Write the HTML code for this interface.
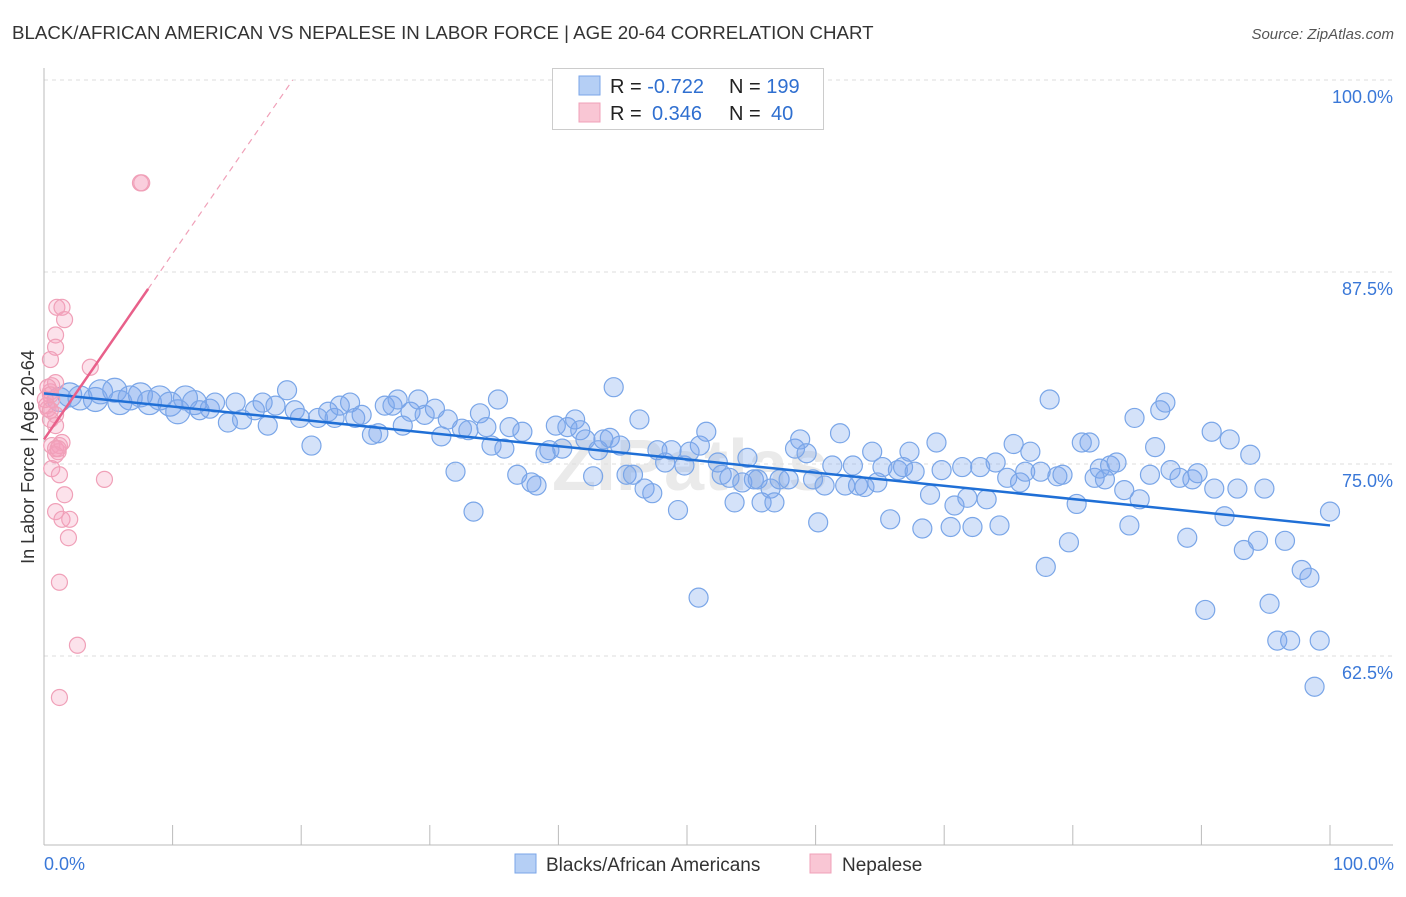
<!DOCTYPE html>
<html><head><meta charset="utf-8"><style>
body{margin:0;background:#fff;font-family:"Liberation Sans",sans-serif;}
svg text{font-family:"Liberation Sans",sans-serif;}
</style></head><body>
<svg id="chart" width="1406" height="892" xmlns="http://www.w3.org/2000/svg">
<text x="12" y="39" font-size="18.7" fill="#333">BLACK/AFRICAN AMERICAN VS NEPALESE IN LABOR FORCE | AGE 20-64 CORRELATION CHART</text>
<text x="1394" y="39" font-size="15" fill="#555" font-style="italic" text-anchor="end">Source: ZipAtlas.com</text>
<text x="690" y="490" font-size="72" fill="#eaeaea" text-anchor="middle" font-weight="bold">ZIPatlas</text>
<g id="grid"></g>
<g id="marks"></g>
<text transform="translate(34,457) rotate(-90)" font-size="18" fill="#333" text-anchor="middle">In Labor Force | Age 20-64</text>
<g>
<rect x="552.5" y="68.5" width="271" height="61" fill="#fff" stroke="#ccc"/>
<rect x="579" y="76" width="21" height="19" fill="#b5cff5" stroke="#7aa6e8"/>
<rect x="579" y="103" width="21" height="19" fill="#f9c6d4" stroke="#f0a0b8"/>
<text x="610" y="93" font-size="20" fill="#222">R = <tspan fill="#2f6fd0">-0.722</tspan></text>
<text x="729" y="93" font-size="20" fill="#222">N = <tspan fill="#2f6fd0">199</tspan></text>
<text x="610" y="120" font-size="20" fill="#222">R = <tspan fill="#2f6fd0" x="652">0.346</tspan></text>
<text x="729" y="120" font-size="20" fill="#222">N = <tspan fill="#2f6fd0" x="771">40</tspan></text>
</g>
<text x="44" y="870" font-size="18" fill="#3a78d8">0.0%</text>
<text x="1394" y="870" font-size="18" fill="#3a78d8" text-anchor="end">100.0%</text>
<g>
<rect x="515" y="854" width="21" height="19" fill="#b5cff5" stroke="#7aa6e8"/>
<text x="546" y="871" font-size="19" fill="#333">Blacks/African Americans</text>
<rect x="810" y="854" width="21" height="19" fill="#f9c6d4" stroke="#f0a0b8"/>
<text x="842" y="871" font-size="19" fill="#333">Nepalese</text>
</g>
</svg>
<script>
const yTicks=[100,87.5,75,62.5];
const yTickLabels=["100.0%","87.5%","75.0%","62.5%"];
const xTicks=[0,10,20,30,40,50,60,70,80,90,100];
const blueX=[1.2,2.0,2.8,4.0,4.4,5.5,5.9,6.7,7.5,8.2,9.0,9.8,10.4,11.0,11.7,12.1,12.9,13.3,14.3,14.9,15.4,16.4,17.0,17.4,18.0,18.9,19.5,19.9,20.8,21.3,22.1,22.6,23.0,23.8,24.2,24.7,25.5,26.0,26.5,27.1,27.5,27.9,28.5,29.1,29.6,30.4,30.9,31.4,32.0,32.5,33.0,33.4,33.9,34.4,34.8,35.3,35.8,36.2,36.8,37.2,37.9,38.3,39.0,39.3,39.8,40.3,40.7,41.3,41.7,42.1,42.7,43.1,43.5,44.0,44.3,44.8,45.3,45.8,46.3,46.7,47.3,47.7,48.3,48.8,49.3,49.8,50.2,51.0,51.5,52.4,52.7,53.3,53.7,54.3,54.7,55.2,55.5,55.8,56.5,56.8,57.2,57.9,58.4,58.8,59.3,59.8,60.2,60.7,61.3,61.9,62.3,62.9,63.3,63.8,64.4,64.8,65.2,65.8,66.4,66.8,67.3,67.7,68.3,68.9,69.4,69.8,70.5,70.8,71.4,71.8,72.2,72.8,73.3,74.0,74.3,74.9,75.4,75.9,76.3,76.7,77.5,77.9,78.2,78.8,79.2,79.7,80.3,80.7,81.3,81.7,82.1,82.5,82.9,83.4,84.0,84.4,84.8,85.2,86.0,86.4,86.8,87.2,87.6,88.3,88.9,89.3,89.7,90.3,90.8,91.0,91.8,92.2,92.8,93.3,93.8,94.4,94.9,95.3,95.9,96.5,96.9,97.8,98.4,98.8,99.2,100,50.9];
const blueY=[79.2,79.5,79.3,79.2,79.7,79.8,79.0,79.3,79.5,79.0,79.3,78.9,78.4,79.3,79.0,78.5,78.6,79.0,77.7,79.0,77.9,78.5,79.0,77.5,78.8,79.8,78.5,78.0,76.2,78.0,78.4,78.0,78.8,79.0,78.0,78.2,76.9,77.0,78.8,78.8,79.2,77.5,78.4,79.2,78.2,78.6,76.8,77.9,74.5,77.3,77.2,71.9,78.3,77.4,76.2,79.2,76.0,77.4,74.3,77.1,73.8,73.6,75.7,75.9,77.5,76.0,77.4,77.9,77.2,76.6,74.2,75.9,76.6,76.7,80.0,76.2,74.3,74.3,77.9,73.4,73.1,75.9,75.1,75.9,72.0,74.9,75.8,76.2,77.1,75.1,74.3,74.1,72.5,73.8,75.4,74.0,74.0,72.5,73.4,72.5,74.0,74.0,76.0,76.6,75.7,74.0,71.2,73.6,74.9,77.0,73.6,74.9,73.6,73.5,75.8,73.8,74.8,71.4,74.6,74.8,75.8,74.5,70.8,73.0,76.4,74.6,70.9,72.3,74.8,72.8,70.9,74.8,72.7,75.1,71.0,74.1,76.3,73.8,74.5,75.8,74.5,68.3,79.2,74.2,74.3,69.9,72.4,76.4,76.4,74.1,74.7,74.0,74.9,75.1,73.3,71.0,78.0,72.7,74.3,76.1,78.5,79.0,74.6,74.1,70.2,74.0,74.4,65.5,77.1,73.4,71.6,76.6,73.4,69.4,75.6,70.0,73.4,65.9,63.5,70.0,63.5,68.1,67.6,60.5,63.5,71.9,66.3];
const pinkX=[0.5,0.6,0.3,0.9,0.5,0.9,0.6,0.9,1.1,1.2,1.4,0.9,0.6,1.2,1.6,0.9,1.4,2.0,1.9,1.2,2.6,1.2,1.0,1.4,1.6,0.9,0.9,0.5,0.6,0.9,0.3,3.6,4.7,7.5,7.6,0.5,0.1,0.2,0.5,1.1];
const pinkY=[79.7,79.2,78.6,78.2,77.9,77.5,76.2,76.0,75.8,76.2,76.4,75.6,74.7,74.3,73.0,71.9,71.4,71.4,70.2,67.3,63.2,59.8,85.2,85.2,84.4,83.4,82.6,81.8,80.1,80.3,80.0,81.3,74.0,93.3,93.3,79.5,79.2,78.8,78.5,76.0];
const blueTrend=[79.6,71.0];
const pinkTrend=[76.6,1.21];
const NS="http://www.w3.org/2000/svg";
const X=v=>44+v*12.86;
const Y=v=>80+(100-v)*15.36;
const grid=document.getElementById('grid'),marks=document.getElementById('marks');
function mk(tag,attrs,parent){const e=document.createElementNS(NS,tag);for(const k in attrs)e.setAttribute(k,attrs[k]);parent.appendChild(e);return e;}
yTicks.forEach((t,i)=>{
 const l=mk('line',{x1:44,x2:1393,y1:Y(t),y2:Y(t),stroke:'#ddd','stroke-dasharray':'4,4'},grid);
 
 
 const tx=mk('text',{x:1393,y:Y(t)+23,'font-size':18,fill:'#3a78d8','text-anchor':'end'},grid);
 tx.textContent=yTickLabels[i];
 
 
});
const ya=mk('line',{x1:44,x2:44,y1:68,y2:845,stroke:'#bbb'},grid);


const xa=mk('line',{x1:44,x2:1393,y1:845,y2:845,stroke:'#bbb'},grid);


xTicks.forEach(t=>{
 const l=mk('line',{x1:X(t),x2:X(t),y1:825,y2:845,stroke:'#bbb'},grid);
 
 
});
blueX.forEach((v,i)=>{
 const r=v<12?12:9.5;
 const c=mk('circle',{cx:X(v),cy:Y(blueY[i]),r:r,fill:'rgba(120,165,235,0.32)',stroke:'#7aa6e8','stroke-width':1.2},marks);
 
 
});
pinkX.forEach((v,i)=>{
 const c=mk('circle',{cx:X(v),cy:Y(pinkY[i]),r:8,fill:'rgba(245,160,190,0.3)',stroke:'#f0a0b8','stroke-width':1.2},marks);
 
 
});
const bl=mk('line',{x1:X(0),y1:Y(blueTrend[0]),x2:X(100),y2:Y(blueTrend[1]),stroke:'#1f6fd6','stroke-width':2.5},marks);


const pEnd=8.1,pDash=(100-pinkTrend[0])/pinkTrend[1];
const pl=mk('line',{x1:X(0),y1:Y(pinkTrend[0]),x2:X(pEnd),y2:Y(pinkTrend[0]+pinkTrend[1]*pEnd),stroke:'#e8608a','stroke-width':2.5},marks);


const pd=mk('line',{x1:X(pEnd),y1:Y(pinkTrend[0]+pinkTrend[1]*pEnd),x2:X(pDash),y2:Y(100),stroke:'#f0a0b8','stroke-width':1.2,'stroke-dasharray':'6,5'},marks);


</script>
</body></html>
